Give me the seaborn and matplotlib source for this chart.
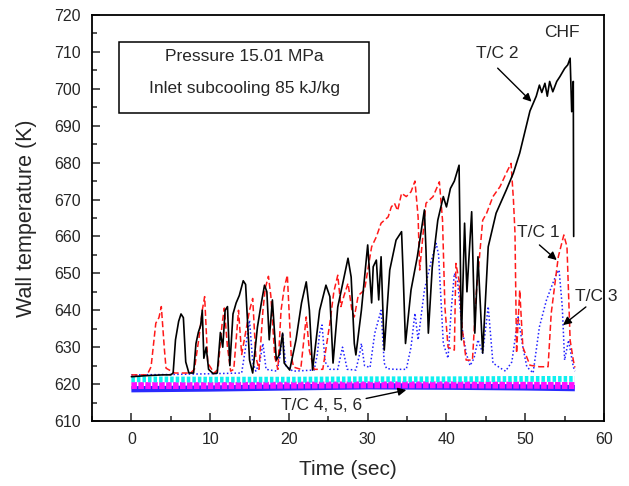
import numpy as np
import pandas as pd
import matplotlib
matplotlib.use("Agg")
import matplotlib.pyplot as plt
import seaborn as sns
from matplotlib.patches import Rectangle
from matplotlib.ticker import MultipleLocator

# =========================
# DADES (llegides del gràfic)
# =========================
t_tc2 = [0, 2, 4, 5.0, 5.3, 5.6, 6.0, 6.3, 6.6, 6.9, 7.3, 7.9, 8.2, 8.5, 8.8, 9.0, 9.2, 9.5, 9.8,
         10.4, 10.9, 11.3, 11.6, 11.9, 12.2, 12.5, 12.9, 13.3, 13.7, 14.2, 14.5, 15.0, 15.4,
         16.0, 16.5, 16.9, 17.2, 17.5, 17.9, 18.4, 18.8, 19.2, 19.4, 20.1, 20.9, 21.6, 22.2,
         22.6, 23.0, 23.9, 24.7, 25.2, 25.6, 26.2, 27.1, 27.5, 27.9, 28.3, 28.5, 29.2, 30.0,
         30.5, 30.7, 31.1, 31.4, 31.7, 32.1, 32.8, 33.6, 34.3, 34.5, 34.8, 35.5, 36.3, 37.2,
         37.4, 37.7, 38.2, 38.9, 39.6, 40.0, 40.5, 41.0, 41.6, 41.9, 42.3, 42.6, 43.2, 43.6,
         44.0, 44.6, 45.3, 46.3, 47.6, 48.5, 49.3, 50.6, 51.4, 51.8, 52.1, 52.5, 52.8, 53.1,
         53.5, 54.0, 54.4, 55.0, 55.4, 55.7, 55.9, 56.1, 56.15]
T_tc2 = [622, 622.3, 622.5, 622.5, 623, 632, 637, 639, 638, 626, 623, 623, 631, 634, 636, 640, 627, 630, 624,
         622.8, 623, 634, 630, 640, 641, 625, 639, 642, 644, 648, 647, 626.5, 623,
         635.4, 642, 646.8, 645, 632, 642.8, 626.5, 628, 633.8, 625.7, 623.8, 632, 642, 647.7,
         640, 623.8, 640, 646.8, 643.7, 625.7, 640.9, 650, 654.1, 649, 631, 627.9, 640, 657.7,
         642, 651.8, 653.6, 642.8, 654.5, 629.2, 650.9, 659, 661.3, 650, 631, 645.5, 654.5, 667.2,
         656.3, 633.8, 651.8, 664.4, 670.8, 668, 673, 675, 679.3, 632, 663.6, 645, 666.7, 633.8,
         654.5, 628.4, 657.2, 666.3, 672.6, 677.2, 682.6, 694, 698, 701, 699, 701.5, 698, 702,
         699.2, 702, 703.3, 705.5, 706.5, 708.3, 693.8, 702, 660]

t_tc1 = [0, 2.0, 2.5, 3.1, 3.5, 3.8, 4.2, 4.4, 5.5, 7.5, 8.0, 8.6, 9.0, 9.3, 9.7, 10.5, 11.0, 11.5,
         11.8, 12.2, 12.6, 13.0, 13.6, 14.0, 14.4, 15.0, 15.4, 15.8, 16.2, 16.7, 17.0, 17.4, 17.7,
         18.2, 18.6, 19.0, 19.4, 19.8, 20.3, 20.6, 21.5, 22.2, 22.6, 23.2, 24.3, 25.2, 25.7, 26.2,
         26.6, 27.0, 27.5, 28.0, 28.3, 28.8, 29.6, 30.1, 30.5, 31.1, 31.7, 32.6, 33.0, 33.4, 33.8,
         34.3, 34.9, 35.5, 36.0, 36.4, 36.6, 37.0, 37.4, 38.3, 39.1, 39.5, 39.8, 40.2, 41.0, 41.2,
         41.6, 42.0, 42.5, 43.3, 43.8, 44.6, 45.1, 45.9, 46.8, 47.6, 48.2, 48.5, 48.7, 48.9, 49.3,
         49.7, 50.6, 51.8, 52.9, 53.3, 54.2, 54.9, 55.3, 55.7, 56.1, 56.3]
T_tc1 = [622.5, 622.5, 624.7, 636.5, 638, 641, 629.2, 624.3, 623, 623, 624, 632.8, 640, 643.7, 625.7, 623, 624, 636,
         640.6, 630, 623.5, 624, 640, 628, 632.8, 640, 643.2, 627.4, 624, 640, 646, 649.2, 644,
         627.4, 624, 640, 646, 649.5, 627.4, 624.6, 624, 638.2, 629, 624, 624, 636.5, 645, 649.5,
         641, 644, 647.3, 640, 638.2, 644, 645.5, 652, 657.2, 659.9, 663.6, 665.3, 668, 669, 667,
         671.7, 670.8, 672.1, 675, 665.3, 650.9, 660, 669, 670.8, 674.8, 664.4, 641, 630, 629.2, 652.7,
         648, 635, 626.5, 626.5, 645, 664.4, 666.3, 670.8, 673.5, 677.2, 679.8, 670, 660.9, 628.4, 645.5,
         630, 625.1, 624.7, 624.7, 639.2, 654.5, 660.4, 657.2, 631.9, 626.5, 624.5]

t_tc3 = [0, 5, 10, 14.0, 14.5, 15.0, 15.4, 15.8, 16.3, 16.7, 17.1, 18.5, 18.9, 19.2, 19.6, 20.5, 23.2,
         23.6, 23.9, 24.2, 24.6, 25.2, 26.2, 26.8, 27.4, 28.5, 29.0, 29.2, 29.6, 30.3, 30.9, 31.7,
         32.1, 32.4, 33.4, 34.9, 35.5, 36.0, 36.4, 37.2, 38.1, 38.7, 39.0, 39.6, 40.2, 40.6, 41.0,
         41.4, 42.0, 42.5, 43.0, 43.5, 44.0, 44.6, 45.3, 45.9, 46.8, 47.5, 48.3, 49.1, 49.7, 50.2,
         51.0, 51.8, 52.7, 53.5, 54.0, 54.3, 54.7, 55.0, 55.5, 56.1, 56.3]
T_tc3 = [622.5, 622.6, 622.8, 623, 630, 637.3, 626, 623.5, 626, 631, 624, 623.5, 628, 633.8, 625, 623.5, 623.8,
         628, 633.8, 636, 626, 624, 624, 630, 624, 623.8, 628.4, 631, 625, 624.5, 633.8, 640,
         625.7, 624.2, 624, 624, 630, 639.2, 632, 645.5, 653.6, 658.1, 655, 631, 627, 640, 650,
         648, 635, 628.4, 625, 627, 632, 628.4, 641, 625.7, 624.4, 623.5, 626, 638.2, 630, 624.7,
         623, 635.5, 642.8, 647.3, 650, 650.9, 641, 626.5, 631.9, 624.7, 623.5]

# T/C 4, 5, 6 (bandes inferiors)
t_low = [0, 10, 20, 30, 40, 50, 56.3]
T_tc4 = [621.3, 621.2, 621.2, 621.3, 621.3, 621.4, 621.4]
T_tc5 = [619.6, 619.6, 619.7, 619.8, 619.8, 619.7, 619.6]
T_tc6 = [618.6, 618.8, 619.1, 619.4, 619.3, 619.1, 618.9]

# =========================
# ESTIL
# =========================
sns.set_style("ticks")
plt.rcParams['font.family'] = ['Liberation Sans', 'DejaVu Sans']

fig, ax = plt.subplots(figsize=(6.29, 4.86), dpi=100)
fig.subplots_adjust(left=92 / 629, right=604 / 629, top=1 - 15 / 486, bottom=1 - 421 / 486)

caps = dict(solid_capstyle='butt', dash_capstyle='butt')
df6 = pd.DataFrame({'t': t_low, 'T': T_tc6})
df5 = pd.DataFrame({'t': t_low, 'T': T_tc5})
df4 = pd.DataFrame({'t': t_low, 'T': T_tc4})
sns.lineplot(data=df6, x='t', y='T', color='#2a2aff', lw=4.5, ax=ax, sort=False, estimator=None, **caps)
sns.lineplot(data=df5, x='t', y='T', color='#ff10ff', lw=5.0, ls=(0, (0.8, 0.2)), ax=ax,
             sort=False, estimator=None, **caps)
sns.lineplot(data=df4, x='t', y='T', color='#10f0f0', lw=4.2, ls=(0, (0.6, 0.35)), ax=ax,
             sort=False, estimator=None, **caps)

df3 = pd.DataFrame({'t': t_tc3, 'T': T_tc3})
df1 = pd.DataFrame({'t': t_tc1, 'T': T_tc1})
df2 = pd.DataFrame({'t': t_tc2, 'T': T_tc2})
sns.lineplot(data=df3, x='t', y='T', color='#2020ff', lw=1.1, ls=(0, (1, 1.5)), ax=ax,
             sort=False, estimator=None)
sns.lineplot(data=df1, x='t', y='T', color='#ff1a1a', lw=1.1, ls=(0, (4, 2)), ax=ax,
             sort=False, estimator=None)
sns.lineplot(data=df2, x='t', y='T', color='black', lw=1.2, ax=ax, sort=False, estimator=None)

# =========================
# EIXOS
# =========================
ax.set_xlim(-5, 60)
ax.set_ylim(610, 720)
ax.xaxis.set_major_locator(MultipleLocator(10))
ax.xaxis.set_minor_locator(MultipleLocator(5))
ax.yaxis.set_major_locator(MultipleLocator(10))
ax.yaxis.set_minor_locator(MultipleLocator(5))
ax.tick_params(which='both', direction='in', top=False, right=False, labelsize=11.5, width=1.1, pad=8)
ax.tick_params(which='major', length=6)
ax.tick_params(which='minor', length=3.5)
for s in ax.spines.values():
    s.set_linewidth(1.3)
    s.set_color('black')
ax.set_xlabel("Time (sec)", fontsize=15, labelpad=9)
ax.set_ylabel("Wall temperature (K)", fontsize=15.5, labelpad=12)

# =========================
# ANOTACIONS
# =========================
ax.add_patch(Rectangle((0.053, 0.759), 0.488, 0.174, transform=ax.transAxes,
                       fill=False, lw=1.1, ec='black'))
ax.text(0.297, 0.899, "Pressure 15.01 MPa", transform=ax.transAxes, ha='center', va='center',
        fontsize=12.5)
ax.text(0.297, 0.820, "Inlet subcooling 85 kJ/kg", transform=ax.transAxes, ha='center', va='center',
        fontsize=12.5)

ax.text(54.6, 715.3, "CHF", ha='center', va='center', fontsize=12.5)
ax.text(46.5, 709.7, "T/C 2", ha='center', va='center', fontsize=12.5)
ax.text(51.6, 661.0, "T/C 1", ha='center', va='center', fontsize=12.5)
ax.text(59.0, 643.6, "T/C 3", ha='center', va='center', fontsize=12.5)
ax.text(24.1, 614.3, "T/C 4, 5, 6", ha='center', va='center', fontsize=12.5)

arrow = dict(arrowstyle='-|>', color='black', lw=1.0, mutation_scale=12, shrinkA=0, shrinkB=0)
ax.annotate("", xy=(50.8, 696.5), xytext=(46.5, 705.6), arrowprops=arrow)
ax.annotate("", xy=(54.0, 653.6), xytext=(51.8, 657.7), arrowprops=arrow)
ax.annotate("", xy=(54.8, 636.0), xytext=(57.7, 640.9), arrowprops=arrow)
ax.annotate("", xy=(34.9, 618.4), xytext=(29.8, 616.1), arrowprops=arrow)

fig.savefig("out.png", dpi=100)
